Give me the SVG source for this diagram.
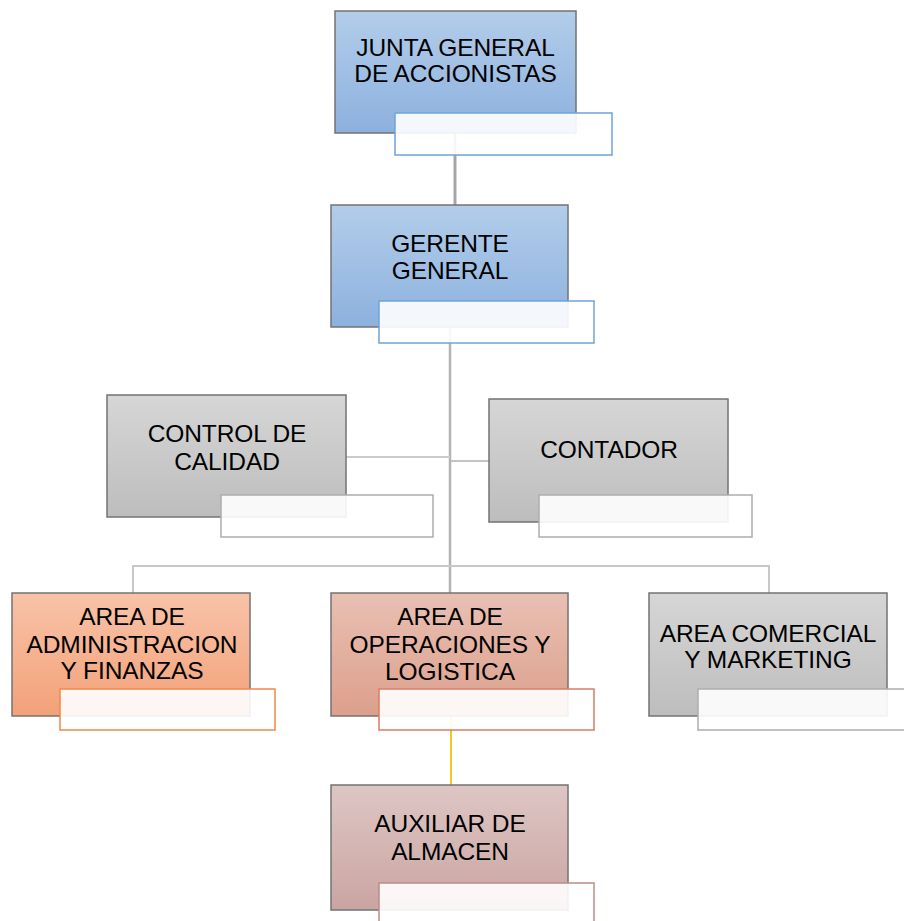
<svg xmlns="http://www.w3.org/2000/svg" width="904" height="921" viewBox="0 0 904 921">
  <defs>
    <linearGradient id="gBlue" x1="0" y1="0" x2="0" y2="1">
      <stop offset="0" stop-color="#b3cdea"/>
      <stop offset="1" stop-color="#8cb1de"/>
    </linearGradient>
    <linearGradient id="gGray" x1="0" y1="0" x2="0" y2="1">
      <stop offset="0" stop-color="#d6d6d6"/>
      <stop offset="1" stop-color="#bdbdbd"/>
    </linearGradient>
    <linearGradient id="gOrange" x1="0" y1="0" x2="0" y2="1">
      <stop offset="0" stop-color="#f8c3a8"/>
      <stop offset="1" stop-color="#f3a179"/>
    </linearGradient>
    <linearGradient id="gSalmon" x1="0" y1="0" x2="0" y2="1">
      <stop offset="0" stop-color="#e9c0b3"/>
      <stop offset="1" stop-color="#dc9f8c"/>
    </linearGradient>
    <linearGradient id="gRose" x1="0" y1="0" x2="0" y2="1">
      <stop offset="0" stop-color="#dec6c4"/>
      <stop offset="1" stop-color="#c9a5a2"/>
    </linearGradient>
  </defs>
  <style>
    .box { stroke: #737373; stroke-width: 1.5; }
    .tag { fill: #ffffff; fill-opacity: 0.9; stroke-width: 1.5; }
    .lbl { font-family: "Liberation Sans", Arial, sans-serif; font-size: 24.5px; fill: #000000; text-anchor: middle; letter-spacing: -0.1px; }
    .ln { fill: none; stroke-linecap: butt; }
  </style>

  <!-- connectors -->
  <g id="connectors">
    <line class="ln" x1="455" y1="133" x2="455" y2="205" stroke="#a6a6a6" stroke-width="3"/>
    <line class="ln" x1="450" y1="327" x2="450" y2="593" stroke="#b3b3b3" stroke-width="2.5"/>
    <line class="ln" x1="346" y1="457" x2="450" y2="457" stroke="#cccccc" stroke-width="2"/>
    <line class="ln" x1="451" y1="461" x2="489" y2="461" stroke="#c4c4c4" stroke-width="2"/>
    <polyline class="ln" points="133,593 133,566 769,566 769,593" stroke="#c8c8c8" stroke-width="2"/>
    <line class="ln" x1="451" y1="716" x2="451" y2="785" stroke="#f7c623" stroke-width="2"/>
  </g>

  <!-- JUNTA GENERAL DE ACCIONISTAS -->
  <g id="junta">
    <rect class="box" x="335" y="11" width="241" height="122" fill="url(#gBlue)"/>
    <text class="lbl" x="455.5" y="56">JUNTA GENERAL</text>
    <text class="lbl" x="455.5" y="82">DE ACCIONISTAS</text>
    <rect class="tag" x="395" y="113" width="217" height="42" stroke="#6fa4d8"/>
  </g>

  <!-- GERENTE GENERAL -->
  <g id="gerente">
    <rect class="box" x="331" y="205" width="237" height="122" fill="url(#gBlue)"/>
    <text class="lbl" x="450" y="252">GERENTE</text>
    <text class="lbl" x="450" y="279">GENERAL</text>
    <rect class="tag" x="379" y="301" width="215" height="42" stroke="#6fa4d8"/>
  </g>

  <!-- CONTROL DE CALIDAD -->
  <g id="control">
    <rect class="box" x="107" y="395" width="239" height="122" fill="url(#gGray)"/>
    <text class="lbl" x="227" y="442">CONTROL DE</text>
    <text class="lbl" x="227" y="470">CALIDAD</text>
    <rect class="tag" x="221" y="495" width="212" height="42" stroke="#adadad"/>
  </g>

  <!-- CONTADOR -->
  <g id="contador">
    <rect class="box" x="489" y="399" width="239" height="123" fill="url(#gGray)"/>
    <text class="lbl" x="609" y="458">CONTADOR</text>
    <rect class="tag" x="539" y="495" width="213" height="42" stroke="#adadad"/>
  </g>

  <!-- AREA DE ADMINISTRACION Y FINANZAS -->
  <g id="administracion">
    <rect class="box" x="12" y="593" width="238" height="123" fill="url(#gOrange)"/>
    <text class="lbl" x="132" y="625">AREA DE</text>
    <text class="lbl" x="132" y="653">ADMINISTRACION</text>
    <text class="lbl" x="132" y="679">Y FINANZAS</text>
    <rect class="tag" x="60" y="689" width="215" height="41" stroke="#f0884a"/>
  </g>

  <!-- AREA DE OPERACIONES Y LOGISTICA -->
  <g id="operaciones">
    <rect class="box" x="331" y="593" width="237" height="123" fill="url(#gSalmon)"/>
    <text class="lbl" x="450" y="625">AREA DE</text>
    <text class="lbl" x="450" y="653">OPERACIONES Y</text>
    <text class="lbl" x="450" y="680">LOGISTICA</text>
    <rect class="tag" x="379" y="689" width="215" height="41" stroke="#d87d62"/>
  </g>

  <!-- AREA COMERCIAL Y MARKETING -->
  <g id="comercial">
    <rect class="box" x="649" y="593" width="238" height="123" fill="url(#gGray)"/>
    <text class="lbl" x="768" y="642">AREA COMERCIAL</text>
    <text class="lbl" x="768" y="668">Y MARKETING</text>
    <rect class="tag" x="698" y="689" width="215" height="41" stroke="#adadad"/>
  </g>

  <!-- AUXILIAR DE ALMACEN -->
  <g id="auxiliar">
    <rect class="box" x="331" y="785" width="237" height="125" fill="url(#gRose)"/>
    <text class="lbl" x="450" y="832">AUXILIAR DE</text>
    <text class="lbl" x="450" y="860">ALMACEN</text>
    <rect class="tag" x="379" y="883" width="215" height="42" stroke="#bb8c86"/>
  </g>
</svg>
